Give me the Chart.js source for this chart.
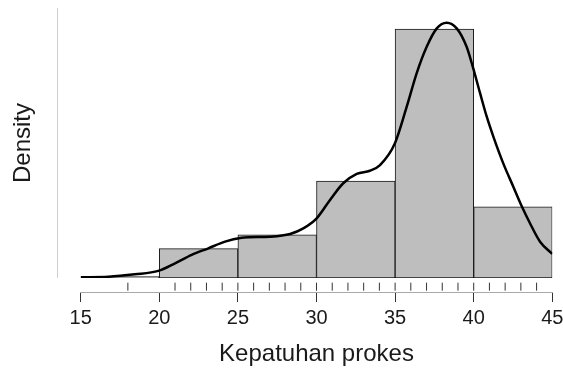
<!DOCTYPE html>
<html>
<head>
<meta charset="utf-8">
<script src="https://cdn.jsdelivr.net/npm/chart.js@4.4.1/dist/chart.umd.min.js"></script>
<style>
  html, body { margin: 0; padding: 0; background: #ffffff; }
  #wrap { width: 563px; height: 372px; }
</style>
</head>
<body>
<div id="wrap"><canvas id="c" width="563" height="372"></canvas></div>
<script>
// ---- data ----
const binCenters = [17.5, 22.5, 27.5, 32.5, 37.5, 42.5];
const binDensity = [0.0006, 0.0120, 0.0176, 0.0395, 0.1014, 0.0290];

const curveX = [15.00, 16.76, 18.45, 19.94, 21.00, 22.06, 23.12, 24.18, 25.24, 25.77,
                27.04, 28.32, 29.16, 30.01, 30.86, 31.70, 32.56, 33.40, 34.04, 34.99,
                35.74, 36.37, 37.01, 37.65, 38.28, 38.92, 39.55, 39.94, 40.41, 40.83,
                41.25, 41.88, 42.52, 43.05, 43.58, 44.22, 45.00];
const curveY = [0.0003, 0.0005, 0.0015, 0.0029, 0.0060, 0.0094, 0.0121, 0.0148, 0.0164, 0.0166,
                0.0168, 0.0179, 0.0202, 0.0243, 0.0318, 0.0386, 0.0424, 0.0437, 0.0460, 0.0549,
                0.0698, 0.0834, 0.0942, 0.1017, 0.1040, 0.1017, 0.0942, 0.0861, 0.0752, 0.0657,
                0.0576, 0.0467, 0.0372, 0.0293, 0.0223, 0.0148, 0.0098];

const rugValues = [18, 21, 22, 23, 24, 25, 26, 27, 28, 29, 30, 31, 32, 33, 34, 35,
                   36, 37, 38, 39, 40, 41, 42, 43, 44];
const rugLevel = 0.38;

const xTicks = [15, 20, 25, 30, 35, 40, 45];
const xTitle = 'Kepatuhan prokes';
const yTitle = 'Density';
const yMax = 0.1100;

// ---- chart ----
const FONT = '"Liberation Sans", Arial, Helvetica, sans-serif';
const TEXT = '#1a1a1a';

const yAxisLine = {
  id: 'yAxisLine',
  beforeDatasetsDraw(chart) {
    const { ctx, chartArea, scales } = chart;
    const x = Math.round(chartArea.left - 23.5) + 0.5;
    const y0 = scales.y.getPixelForValue(yMax);
    const y1 = scales.y.getPixelForValue(0);
    ctx.save();
    ctx.strokeStyle = '#cfcfcf';
    ctx.lineWidth = 1;
    ctx.beginPath();
    ctx.moveTo(x, y0);
    ctx.lineTo(x, y1);
    ctx.stroke();
    ctx.restore();
  }
};

new Chart(document.getElementById('c'), {
  type: 'bar',
  data: {
    datasets: [
      {
        type: 'line',
        data: curveX.map((x, i) => ({ x: x, y: curveY[i] })),
        borderColor: '#000000',
        borderWidth: 2.5,
        pointRadius: 0,
        fill: false,
        cubicInterpolationMode: 'monotone',
        yAxisID: 'y',
        order: 0
      },
      {
        type: 'scatter',
        data: rugValues.map(v => ({ x: v, y: rugLevel })),
        pointStyle: 'line',
        rotation: 90,
        radius: 4,
        borderColor: '#333333',
        borderWidth: 1,
        yAxisID: 'yRug',
        order: 1
      },
      {
        type: 'bar',
        data: binCenters.map((c, i) => ({ x: c, y: binDensity[i] })),
        backgroundColor: '#bebebe',
        borderColor: '#1a1a1a',
        borderWidth: 1,
        borderSkipped: false,
        barPercentage: 1,
        categoryPercentage: 1,
        grouped: false,
        yAxisID: 'y',
        order: 2
      }
    ]
  },
  options: {
    responsive: false,
    devicePixelRatio: 1,
    animation: false,
    layout: { padding: { top: 8, right: 10.7, left: 0, bottom: 0 } },
    plugins: { legend: { display: false }, tooltip: { enabled: false } },
    scales: {
      yRug: {
        type: 'linear',
        position: 'left',
        stack: 'left',
        stackWeight: 14,
        min: 0,
        max: 1,
        afterFit: s => { s.width = 80.7; },
        ticks: { display: false },
        grid: { display: false },
        border: { display: false }
      },
      y: {
        type: 'linear',
        position: 'left',
        stack: 'left',
        stackWeight: 270,
        min: 0,
        max: yMax,
        afterFit: s => { s.width = 80.7; },
        ticks: { display: false },
        grid: { display: false },
        border: { display: false },
        title: { display: true, text: yTitle, font: { family: FONT, size: 24 }, color: TEXT, padding: { top: 9, bottom: 0 } }
      },
      x: {
        type: 'linear',
        min: 15,
        max: 45,
        offset: false,
        afterBuildTicks: s => { s.ticks = xTicks.map(v => ({ value: v })); },
        afterFit: s => { s.height = 80; s.paddingLeft = 0; s.paddingRight = 0; },
        ticks: { font: { family: FONT, size: 20 }, color: TEXT, padding: 4, autoSkip: false, maxRotation: 0 },
        grid: { offset: false, drawOnChartArea: false, drawTicks: true, tickLength: 10, color: '#333333', lineWidth: 1 },
        border: { display: true, color: '#aaaaaa', width: 1 },
        title: { display: true, text: xTitle, font: { family: FONT, size: 24 }, color: TEXT, padding: { top: 0, bottom: 3 } }
      }
    }
  },
  plugins: [yAxisLine]
});
</script>
</body>
</html>
